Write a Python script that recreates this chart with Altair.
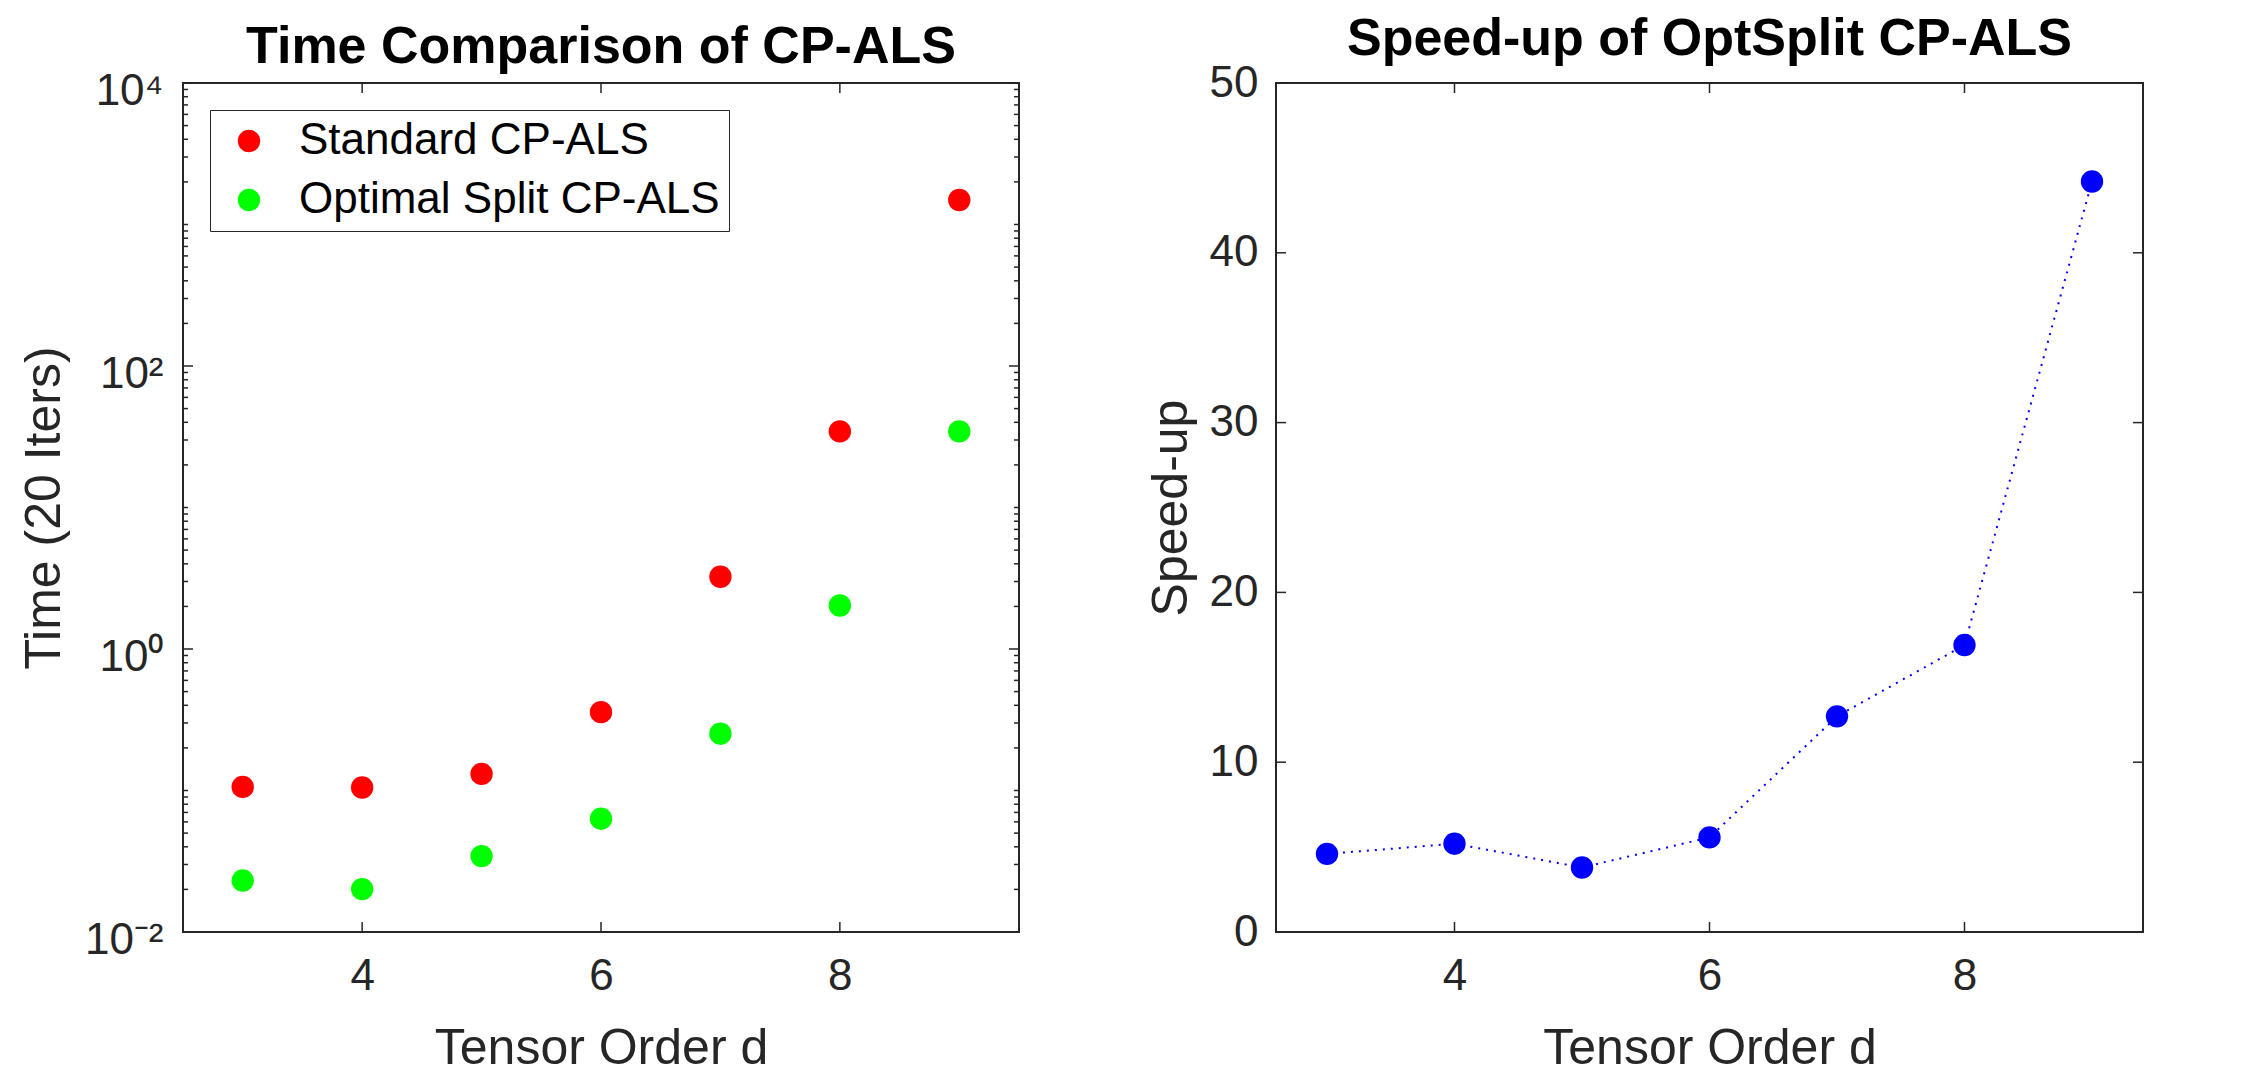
import altair as alt
import pandas as pd

# ---- data ----
d = [3, 4, 5, 6, 7, 8, 9]
standard_time = [0.106, 0.105, 0.131, 0.358, 3.24, 34.5, 1490]
optsplit_time = [0.0231, 0.0201, 0.0344, 0.0632, 0.252, 2.03, 34.5]
speedup = [4.6, 5.2, 3.8, 5.57, 12.7, 16.9, 44.2]

series_names = ["Standard CP-ALS", "Optimal Split CP-ALS"]
series_colors = ["#FF0000", "#00FF00"]

x_ticks = [4, 6, 8]
log_labeled = [0.01, 1, 100, 10000]
log_decades = [0.01, 0.1, 1, 10, 100, 1000]
log_mult = [2, 3, 4, 5, 6, 7, 8, 9]
log_unlabeled = [0.1, 10, 1000]
lin_ticks = [0, 10, 20, 30, 40, 50]

FONT = "Liberation Sans"
TXT = "#262626"
W1, W2, H = 836, 867, 849
MAJ, MIN = 10, 5
DOT = 500

df_time = pd.DataFrame({
    "d": d + d,
    "time": standard_time + optsplit_time,
    "series": [series_names[0]] * len(d) + [series_names[1]] * len(d),
})
df_speed = pd.DataFrame({"d": d, "speedup": speedup})

log_minor = [m * dec for dec in log_decades for m in log_mult] + log_unlabeled
df_ymaj = pd.DataFrame({"v": log_labeled})
df_ymin = pd.DataFrame({"v": log_minor})
df_xt = pd.DataFrame({"v": x_ticks})
df_lin = pd.DataFrame({"v": lin_ticks})

xs1 = alt.Scale(domain=[2.5, 9.5], nice=False, zero=False)
ys1 = alt.Scale(type="log", domain=[0.01, 10000], nice=False)
xs2 = alt.Scale(domain=[2.6, 9.4], nice=False, zero=False)
ys2 = alt.Scale(domain=[0, 50], nice=False, zero=True)

x_axis = alt.Axis(values=x_ticks, title="Tensor Order d", labelPadding=22,
                  titlePadding=25, format="d")
y_axis1 = alt.Axis(
    values=log_labeled, title="Time (20 Iters)",
    labelExpr="'10' + (datum.value >= 5000 ? '⁴' : datum.value >= 50 ? '²' : datum.value >= 0.5 ? '⁰' : '⁻²')",
    labelPadding=20, minExtent=96, maxExtent=96, titlePadding=18, labelOffset=8)
y_axis2 = alt.Axis(values=lin_ticks, title="Speed-up", labelPadding=18,
                   minExtent=67, maxExtent=67, titlePadding=13)


def yrules(df, yscale, yaxis, w, length):
    left = alt.Chart(df).mark_rule(color=TXT, strokeWidth=1.5).encode(
        y=alt.Y("v:Q", scale=yscale, axis=yaxis),
        x=alt.value(0), x2=alt.value(length))
    right = alt.Chart(df).mark_rule(color=TXT, strokeWidth=1.5).encode(
        y=alt.Y("v:Q", scale=yscale, axis=yaxis),
        x=alt.value(w - length), x2=alt.value(w))
    return [left, right]


def xrules(xscale):
    bot = alt.Chart(df_xt).mark_rule(color=TXT, strokeWidth=1.5).encode(
        x=alt.X("v:Q", scale=xscale, axis=x_axis),
        y=alt.value(H - MAJ), y2=alt.value(H))
    top = alt.Chart(df_xt).mark_rule(color=TXT, strokeWidth=1.5).encode(
        x=alt.X("v:Q", scale=xscale, axis=x_axis),
        y=alt.value(0), y2=alt.value(MAJ))
    return [bot, top]


points1 = alt.Chart(df_time).mark_circle(size=DOT, opacity=1).encode(
    x=alt.X("d:Q", scale=xs1, axis=x_axis),
    y=alt.Y("time:Q", scale=ys1, axis=y_axis1),
    color=alt.Color("series:N", scale=alt.Scale(domain=series_names, range=series_colors),
                    legend=alt.Legend(
                        orient="none", legendX=27, legendY=27, title=None,
                        labelFont=FONT, labelFontSize=44, labelColor="#000000",
                        labelLimit=0,
                        symbolType="circle", symbolSize=DOT, symbolStrokeWidth=0,
                        strokeColor=TXT, fillColor="white", padding=9,
                        rowPadding=15, symbolOffset=8, labelOffset=28)),
)

left = alt.layer(
    points1,
    *yrules(df_ymin, ys1, y_axis1, W1, MIN),
    *yrules(df_ymaj, ys1, y_axis1, W1, MAJ),
    *xrules(xs1),
).properties(width=W1, height=H, title="Time Comparison of CP-ALS")

line2 = alt.Chart(df_speed).mark_line(color="#0000FF", strokeWidth=2,
                                      strokeDash=[2, 6]).encode(
    x=alt.X("d:Q", scale=xs2, axis=x_axis),
    y=alt.Y("speedup:Q", scale=ys2, axis=y_axis2),
)
points2 = alt.Chart(df_speed).mark_circle(size=DOT, opacity=1, color="#0000FF").encode(
    x=alt.X("d:Q", scale=xs2, axis=x_axis),
    y=alt.Y("speedup:Q", scale=ys2, axis=y_axis2),
)

right = alt.layer(
    line2, points2,
    *yrules(df_lin, ys2, y_axis2, W2, MAJ),
    *xrules(xs2),
).properties(width=W2, height=H, title="Speed-up of OptSplit CP-ALS")

chart = alt.hconcat(left, right, spacing=124).properties(
    padding={"left": 10, "top": 4, "right": 0, "bottom": 0}
).configure_view(
    stroke=TXT, strokeWidth=2
).configure_axis(
    labelFont=FONT, labelFontSize=44, labelColor=TXT,
    titleFont=FONT, titleFontSize=50, titleFontWeight="normal", titleColor=TXT,
    domain=False, ticks=False, tickSize=0, grid=False,
).configure_title(
    font=FONT, fontSize=52, fontWeight="bold", color="#000000",
    anchor="middle", frame="group", offset=-5,
)

chart.save("out.html", embed_options={"renderer": "svg", "actions": False})
